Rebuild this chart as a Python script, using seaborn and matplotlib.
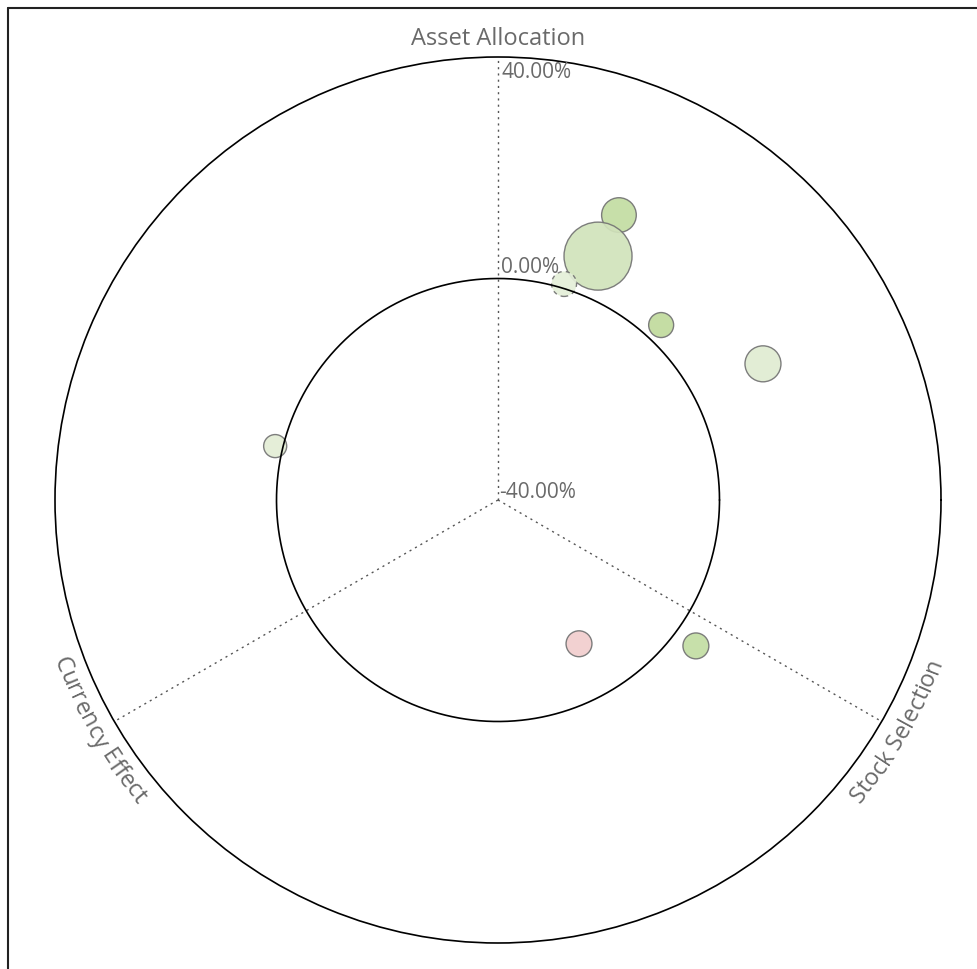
import numpy as np
import pandas as pd
import matplotlib.pyplot as plt
import seaborn as sns
from matplotlib.lines import Line2D
from matplotlib.font_manager import FontProperties

# data
segments = ["Seg A", "Seg B", "Seg C", "Seg D", "Seg E", "Seg F", "Seg G", "Seg H"]
angle_deg = [67.0, 67.7, 73.0, 47.0, 27.2, 166.4, -60.6, -36.4]
excess_pct = [15.9, 7.6, 0.8, 3.2, 13.8, 1.4, -10.2, 4.4]
weight = [2.6, 10.0, 1.35, 1.35, 2.8, 1.15, 1.45, 1.45]
bubble_colors = ["#c3dda2", "#d1e3bb", "#e4efd8", "#c0db9c",
                 "#e0ecd2", "#e3edd5", "#f1cdcd", "#c3dea3"]
axis_names = ["Asset Allocation", "Stock Selection", "Currency Effect"]
axis_angles = [90, -30, 210]
r_ticks = [40, 0, -40]
r_tick_labels = ["40.00%", "0.00%", "-40.00%"]

df = pd.DataFrame({"segment": segments,
                   "theta": np.radians(angle_deg),
                   "value": excess_pct,
                   "weight": weight})

sns.set_style("white")
plt.rcParams["font.family"] = ["Open Sans", "DejaVu Sans"]
text_color = "#6a6a6a"

fig = plt.figure(figsize=(9.78, 9.69), dpi=100)
R_PX = 443
cx, cy = 498, 969 - 500
ax = fig.add_axes([(cx - R_PX) / 978, (cy - R_PX) / 969, 2 * R_PX / 978, 2 * R_PX / 969],
                  projection="polar")
ax.set_theta_zero_location("E")
ax.set_ylim(-40, 40)
ax.grid(False)
ax.set_xticks([])
ax.set_yticks([])
ax.spines["polar"].set_color("black")
ax.spines["polar"].set_linewidth(1.2)

# axis spokes
for a in axis_angles:
    ax.plot([np.radians(a)] * 2, [-40, 40], color="#555555", lw=1.0,
            ls=(0, (1.5, 3)), zorder=2)

# zero circle
circ = np.linspace(0, 2 * np.pi, 400)
ax.plot(circ, np.zeros_like(circ), color="black", lw=1.2, zorder=3)

smax = (2 * 34 * 0.72) ** 2
sns.scatterplot(data=df, x="theta", y="value", hue="segment", size="weight",
                palette=bubble_colors, sizes=(0, smax), size_norm=(0, max(weight)),
                edgecolor="#737373", linewidth=1.0, alpha=0.92, legend=False,
                ax=ax, zorder=1)
coll = ax.collections[0]
coll.set_linestyles(["solid", "solid", (0, (3, 3)), "solid",
                     "solid", "solid", "solid", "solid"])
ax.set_xlabel("")
ax.set_ylabel("")

# radial tick labels along the top spoke
tick_fp = FontProperties(family=["Open Sans", "DejaVu Sans"], size=15)
offsets = {40: (4, -16), 0: (3, 11), -40: (1, 7)}
for v, lab in zip(r_ticks, r_tick_labels):
    ax.annotate(lab, xy=(np.radians(90), v), xytext=offsets[v], textcoords="offset pixels",
                fontproperties=tick_fp, color=text_color, ha="left", va="center")

lab_fp = FontProperties(family=["Open Sans", "DejaVu Sans"], size=17)


def px_to_r(px):
    return -40 + 80 * px / R_PX


renderer = fig.canvas.get_renderer()


def text_w(s):
    w, h, d = renderer.get_text_width_height_descent(s + "l", lab_fp, ismath=False)
    w0, h0, d0 = renderer.get_text_width_height_descent("l", lab_fp, ismath=False)
    return w - w0


def arc_text(s, theta_c, radius_px):
    total = text_w(s)
    for i, ch in enumerate(s):
        if ch == " ":
            continue
        mid = (text_w(s[:i]) + text_w(s[:i + 1])) / 2 - total / 2
        th = np.radians(theta_c) + mid / radius_px
        ax.text(th, px_to_r(radius_px), ch, rotation=np.degrees(th) + 90,
                rotation_mode="anchor", ha="center", va="baseline",
                fontproperties=lab_fp, color=text_color, clip_on=False)


ax.text(np.radians(90), px_to_r(455), axis_names[0], ha="center", va="baseline",
        fontproperties=lab_fp, color=text_color, clip_on=False)
arc_text(axis_names[1], axis_angles[1], 472)
arc_text(axis_names[2], axis_angles[2], 472)

# page frame (left and top edges)
fig.add_artist(Line2D([8 / 978, 8 / 978], [0, 1 - 8 / 969], color="#222222", lw=1.5,
                      transform=fig.transFigure))
fig.add_artist(Line2D([8 / 978, 1], [1 - 8 / 969, 1 - 8 / 969], color="#222222", lw=1.5,
                      transform=fig.transFigure))

fig.savefig("out.png", dpi=100, facecolor="white")
